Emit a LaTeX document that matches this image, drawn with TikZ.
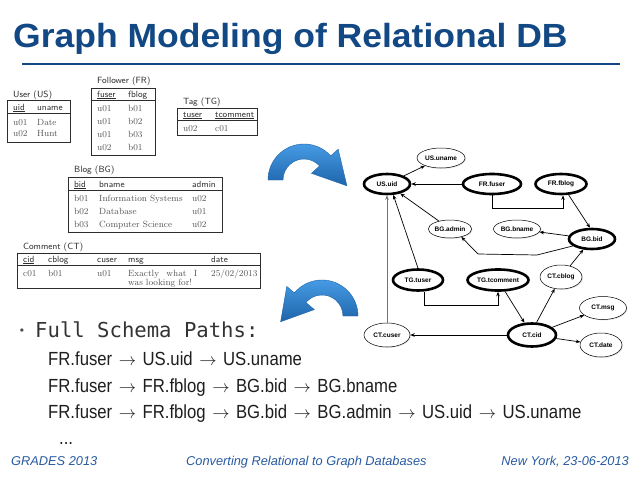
\documentclass[tikz,border=0pt]{standalone}
\usepackage{fontspec}
\usetikzlibrary{shapes.geometric,arrows.meta,shadows,calc}
\newfontfamily\arialf{Liberation Sans}
\newfontfamily\titlef[FakeStretch=1.06]{Liberation Sans}
\newfontfamily\condf[FakeStretch=0.88]{Liberation Sans}
\newfontfamily\monof{DejaVu Sans Mono}
\newcommand{\myarr}{\hspace{6.5pt}$\rightarrow$\hspace{6.5pt}}
\definecolor{titleblue}{RGB}{18,72,132}
\definecolor{footblue}{RGB}{40,90,160}
\definecolor{tabtext}{RGB}{45,45,45}
\definecolor{tabdata}{RGB}{85,85,85}
\definecolor{arrowlight}{RGB}{70,155,228}
\definecolor{arrowdark}{RGB}{30,100,170}
\definecolor{pathtext}{RGB}{30,30,30}
\tikzset{
  tcap/.style={anchor=base west, inner sep=0, font=\sffamily\fontsize{9}{10}\selectfont, text=tabtext},
  tdata/.style={anchor=base west, inner sep=0, font=\rmfamily\fontsize{9}{10}\selectfont, text=tabdata},
  tbox/.style={draw=tabtext, line width=0.6pt},
  gnode/.style={ellipse, draw=black, fill=white, inner sep=0, font=\arialf\bfseries\fontsize{6.5}{7}\selectfont,
    drop shadow={opacity=0.22, shadow xshift=0.9pt, shadow yshift=-0.9pt}},
  fattr/.style={gnode, line width=0.5pt},
  fkey/.style={gnode, line width=2.6pt},
  conn/.style={draw=black, line width=0.7pt, -{Stealth[length=4.5pt,width=3.6pt]}},
  conng/.style={draw=black!55, line width=1pt, -{Stealth[length=4.5pt,width=3.6pt]}},
  ltxt/.style={anchor=base west, inner sep=0, font=\condf\fontsize{19}{21}\selectfont, text=pathtext},
  foot/.style={anchor=base west, inner sep=0, font=\arialf\itshape\fontsize{12.8}{14}\selectfont, text=footblue},
  barrow/.style={top color=arrowlight, bottom color=arrowdark, draw=arrowdark, line width=0.4pt}
}
\begin{document}
\begin{tikzpicture}[x=1pt,y=-1pt]
\fill[white] (0,0) rectangle (638,479);
\useasboundingbox (0,0) rectangle (638,479);

% title
\node[anchor=base west, inner sep=0, font=\titlef\bfseries\fontsize{33.5}{36}\selectfont, text=titleblue] (title) at (13,47) {Graph Modeling of Relational DB};
\draw[titleblue, line width=2pt] (22,64) -- (620,64);

% ---- User table
\node[tcap] at (13,97) {User (US)};
\draw[tbox] (7,100) rectangle (70,142);
\draw[tbox] (7,113) -- (70,113);
\node[tcap] at (13,110) {\underline{uid}};
\node[tcap] at (37,110) {uname};
\node[tdata] at (13,125) {u01}; \node[tdata] at (37,125) {Date};
\node[tdata] at (13,136) {u02}; \node[tdata] at (37,136) {Hunt};

% ---- Follower table
\node[tcap] at (97,83) {Follower (FR)};
\draw[tbox] (91,88) rectangle (155,155);
\draw[tbox] (91,100) -- (155,100);
\node[tcap] at (97,97) {\underline{fuser}};
\node[tcap] at (128,97) {\underline{fblog}};
\node[tdata] at (97,111) {u01}; \node[tdata] at (128,111) {b01};
\node[tdata] at (97,124) {u01}; \node[tdata] at (128,124) {b02};
\node[tdata] at (97,137) {u01}; \node[tdata] at (128,137) {b03};
\node[tdata] at (97,150) {u02}; \node[tdata] at (128,150) {b01};

% ---- Tag table
\node[tcap] at (183,104) {Tag (TG)};
\draw[tbox] (177,108) rectangle (257,135);
\draw[tbox] (177,120) -- (257,120);
\node[tcap] at (183,117) {\underline{tuser}};
\node[tcap] at (215,117) {\underline{tcomment}};
\node[tdata] at (183,131) {u02}; \node[tdata] at (215,131) {c01};

% ---- Blog table
\node[tcap] at (74,172) {Blog (BG)};
\draw[tbox] (68,177) rectangle (222,232);
\draw[tbox] (68,190) -- (222,190);
\node[tcap] at (74,187) {\underline{bid}};
\node[tcap] at (99,187) {bname};
\node[tcap] at (192,187) {admin};
\node[tdata] at (74,201) {b01}; \node[tdata] at (99,201) {Information Systems}; \node[tdata] at (192,201) {u02};
\node[tdata] at (74,214) {b02}; \node[tdata] at (99,214) {Database}; \node[tdata] at (192,214) {u01};
\node[tdata] at (74,227) {b03}; \node[tdata] at (99,227) {Computer Science}; \node[tdata] at (192,227) {u02};

% ---- Comment table
\node[tcap] at (23,249) {Comment (CT)};
\draw[tbox] (17,253) rectangle (260,288);
\draw[tbox] (17,265) -- (260,265);
\node[tcap] at (23,262) {\underline{cid}};
\node[tcap] at (48,262) {cblog};
\node[tcap] at (97,262) {cuser};
\node[tcap] at (128,262) {msg};
\node[tcap] at (211,262) {date};
\node[tdata] at (23,276) {c01};
\node[tdata] at (48,276) {b01};
\node[tdata] at (97,276) {u01};
\node[tdata] at (128,276) {\makebox[69pt][s]{Exactly what I}};
\node[tdata] at (128,285) {was looking for!};
\node[tdata] at (211,276) {25/02/2013};

% ---- blue curved arrows
\coordinate (C1) at (304,180);
\shade[barrow] ($(C1)+(180:36)$) arc[start angle=180, end angle=318, radius=36]
  -- ($(C1)+(318:46)$) -- ($(C1)+(318:28)+(48:33)$) -- ($(C1)+(318:10)$)
  -- ($(C1)+(318:21)$) arc[start angle=318, end angle=180, radius=21] -- cycle;
\coordinate (C2) at (322,316);
\shade[barrow] ($(C2)+(0:36)$) arc[start angle=0, end angle=-140, radius=36]
  -- ($(C2)+(-140:46)$) -- ($(C2)+(-140:28)+(130:31)$) -- ($(C2)+(-140:10)$)
  -- ($(C2)+(-140:21)$) arc[start angle=-140, end angle=0, radius=21] -- cycle;

% ---- graph nodes
\node[fattr, minimum width=48pt, minimum height=20pt] (USuname) at (441,158) {US.uname};
\node[fkey, minimum width=46pt, minimum height=20pt] (USuid) at (387,184) {US.uid};
\node[fkey, minimum width=58pt, minimum height=20pt] (FRfuser) at (492,184) {FR.fuser};
\node[fkey, minimum width=51pt, minimum height=20pt] (FRfblog) at (561,184) {FR.fblog};
\node[fattr, minimum width=43pt, minimum height=18pt] (BGadmin) at (450,229) {BG.admin};
\node[fattr, minimum width=47pt, minimum height=18pt] (BGbname) at (517,229) {BG.bname};
\node[fkey, minimum width=46pt, minimum height=20pt] (BGbid) at (592,239) {BG.bid};
\node[fkey, minimum width=50pt, minimum height=21pt] (TGtuser) at (418,280) {TG.tuser};
\node[fkey, minimum width=61pt, minimum height=21pt] (TGtcomment) at (498,280) {TG.tcomment};
\node[fattr, minimum width=42pt, minimum height=24pt] (CTcblog) at (561,277) {CT.cblog};
\node[fattr, minimum width=47pt, minimum height=23pt] (CTmsg) at (603,308) {CT.msg};
\node[fattr, minimum width=46pt, minimum height=24pt] (CTcuser) at (387,335) {CT.cuser};
\node[fkey, minimum width=48pt, minimum height=23pt] (CTcid) at (532,335) {CT.cid};
\node[fattr, minimum width=42pt, minimum height=24pt] (CTdate) at (601,345) {CT.date};

% ---- graph edges
\coordinate (b1) at (537,255);
\coordinate (b2) at (478,254);
\draw[conn] (USuid) -- (USuname);
\draw[conn] (FRfuser) -- (USuid);
\draw[conn] (FRfuser.south) -- ++(0,13) -| ([xshift=2pt]FRfblog.south);
\draw[conn] (FRfblog.-55) -- (BGbid.100);
\draw[conn] (BGadmin) -- (USuid);
\draw[conn] (BGbid) -- (BGbname);
\draw[conn] (BGbid.-160) -- (b1) -- (b2) -- (BGadmin.-35);
\draw[conn] (TGtuser.north) -- (USuid.-60);
\draw[conng] (CTcuser.north) -- (USuid.south);
\draw[conn] ([xshift=6pt]TGtuser.south) -- ++(0,14) -| (TGtcomment.south);
\draw[conn] (TGtcomment) -- (CTcid);
\draw[conn] (CTcid.70) -- (CTcblog);
\draw[conn] (CTcblog) -- (BGbid);
\draw[conn] (CTcid) -- (CTmsg);
\draw[conn] (CTcid) -- (CTdate);
\draw[conn] (CTcid) -- (CTcuser);

% ---- bullet text
\node[anchor=center, inner sep=0, font=\arialf\fontsize{12}{12}\selectfont, text=black!70] (bul) at (22,332) {•};
\node[anchor=base west, inner sep=0, font=\monof\fontsize{20.6}{22}\selectfont, text=black!80] (fsp) at (35,337) {Full Schema Paths:};
\node[ltxt] (p1) at (48,365) {FR.fuser\myarr US.uid\myarr US.uname};
\node[ltxt] (p2) at (48,392) {FR.fuser\myarr FR.fblog\myarr BG.bid\myarr BG.bname};
\node[ltxt] (p3) at (48,418) {FR.fuser\myarr FR.fblog\myarr BG.bid\myarr BG.admin\myarr US.uid\myarr US.uname};
\node[ltxt] (p4) at (59,444) {...};

% ---- footer
\node[foot] (f1) at (11,465) {GRADES 2013};
\node[foot] (f2) at (186,465) {Converting Relational to Graph Databases};
\node[foot, anchor=base east] (f3) at (629,465) {New York, 23-06-2013};
\end{tikzpicture}
\end{document}
